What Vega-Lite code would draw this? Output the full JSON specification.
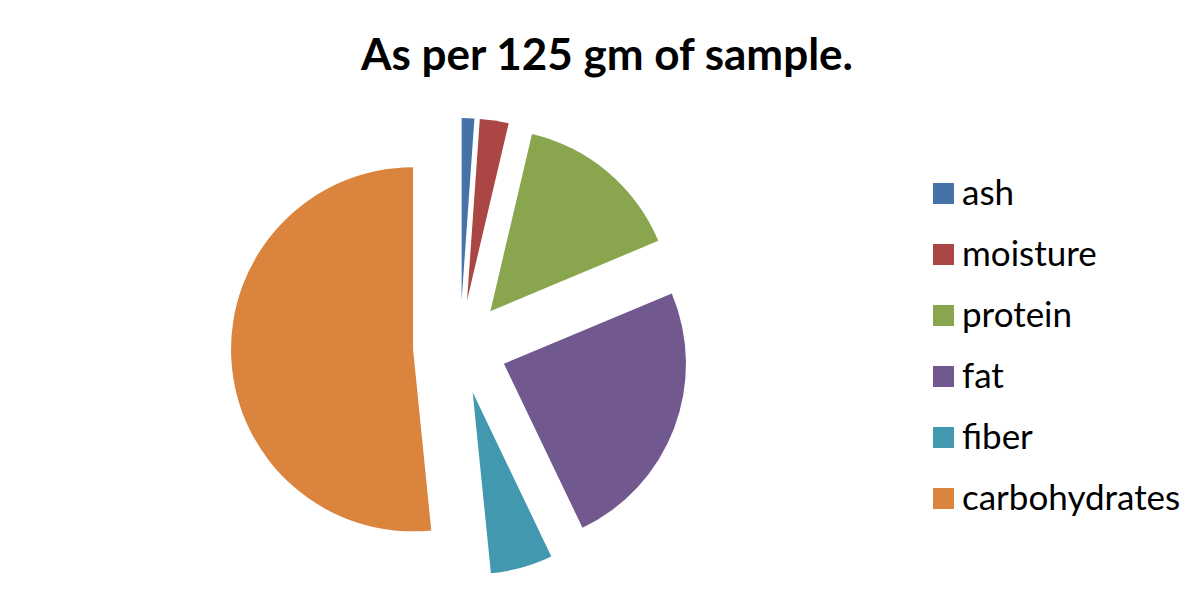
{
  "$schema": "https://vega.github.io/schema/vega-lite/v6.json",
  "width": 920,
  "height": 514,
  "autosize": {"type": "none"},
  "padding": {"left": 0, "top": 90, "right": 283, "bottom": 0},
  "background": "white",
  "title": {
    "text": "As per 125 gm of sample.",
    "font": "Lato",
    "fontSize": 44,
    "fontWeight": "bold",
    "color": "#000000",
    "anchor": "middle",
    "dx": 147,
    "dy": 43,
    "offset": 19,
    "baseline": "alphabetic"
  },
  "data": {
    "values": [
      {"component": "ash", "grams": 1.4},
      {"component": "moisture", "grams": 3.2},
      {"component": "protein", "grams": 18.8},
      {"component": "fat", "grams": 30.3},
      {"component": "fiber", "grams": 6.9},
      {"component": "carbohydrates", "grams": 64.6}
    ]
  },
  "transform": [{"window": [{"op": "row_number", "as": "idx"}]}],
  "mark": {
    "type": "arc",
    "radius": 182,
    "xOffset": {"expr": "47*sin(scale('theta',(datum.grams_start+datum.grams_end)/2))"},
    "yOffset": {"expr": "-47*cos(scale('theta',(datum.grams_start+datum.grams_end)/2))"}
  },
  "encoding": {
    "theta": {"field": "grams", "type": "quantitative", "stack": true},
    "order": {"field": "idx", "type": "quantitative"},
    "color": {
      "field": "component",
      "type": "nominal",
      "sort": null,
      "scale": {
        "domain": ["ash", "moisture", "protein", "fat", "fiber", "carbohydrates"],
        "range": ["#4572A7", "#AA4643", "#89A54E", "#71588F", "#4198AF", "#DB843D"]
      },
      "legend": {
        "orient": "none",
        "legendX": 926,
        "legendY": 86,
        "title": null,
        "symbolType": "square",
        "symbolSize": 441,
        "symbolStrokeWidth": 0,
        "symbolOpacity": 1,
        "labelFont": "Lato",
        "labelFontSize": 35,
        "labelLimit": 400,
        "labelColor": "#000000",
        "labelOffset": 1,
        "rowPadding": 25,
        "padding": 0
      }
    }
  },
  "config": {"view": {"stroke": null}}
}
